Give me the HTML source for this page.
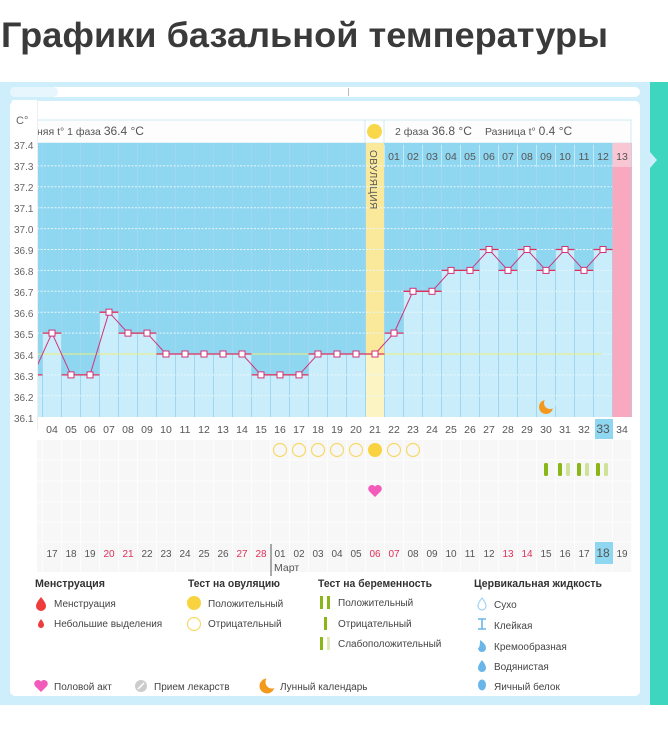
<!DOCTYPE html>
<html><head><meta charset="utf-8"><style>
html,body{margin:0;padding:0;background:#fff;}
svg{display:block;font-family:"Liberation Sans","DejaVu Sans",sans-serif;}
</style></head><body>
<svg id="s" width="668" height="743" viewBox="0 0 668 743" xmlns="http://www.w3.org/2000/svg">
<text x="1" y="47" font-size="35" font-weight="bold" fill="#3a3a3a" textLength="607" lengthAdjust="spacingAndGlyphs">Графики базальной температуры</text>
<rect x="0" y="82" width="650" height="623" fill="#cdeefa"/>
<rect x="650" y="82" width="18" height="623" fill="#3fd6bf"/>
<polygon points="650,152 657,160 650,168" fill="#cdeefa"/>
<rect x="10" y="87" width="630" height="10" rx="5" fill="#fff"/>
<rect x="10" y="87" width="48" height="10" rx="5" fill="#e6f6fc"/>
<rect x="348" y="88" width="1" height="8" fill="#bbb"/>
<rect x="10" y="101" width="630" height="595" rx="5" fill="#fff"/>
<!-- header -->
<rect x="37" y="120" width="594" height="23" fill="#fdfdfd" stroke="#cfe9f3"/>
<text x="37" y="135" font-size="10.5" fill="#555">няя t° 1 фаза <tspan font-size="12">36.4 °C</tspan></text>
<rect x="365" y="120" width="19" height="23" fill="#fff" stroke="#cfe9f3"/>
<circle cx="374.5" cy="131.5" r="7.5" fill="#f9d74a"/>
<text x="395" y="135" font-size="10.5" fill="#555">2 фаза <tspan font-size="12">36.8 °C</tspan></text>
<text x="485" y="135" font-size="10.5" fill="#555">Разница t° <tspan font-size="12">0.4 °C</tspan></text>
<!-- plot -->
<rect x="37" y="143" width="594" height="274" fill="#8fd6f1"/>
<g id="bars"></g>
<g stroke="#e6f7fd" stroke-dasharray="2,1.5" stroke-width="1" id="grid"></g>
<rect x="612.5" y="143" width="19" height="274" fill="#f8a9c0"/>
<rect x="612.5" y="143" width="19" height="24" fill="#f9c6d4"/>
<line x1="37" y1="354" x2="602" y2="354" stroke="#f0f07a" stroke-width="1"/>
<text transform="translate(370,150) rotate(90)" font-size="10" fill="#555" letter-spacing="0.5">ОВУЛЯЦИЯ</text>
<g font-size="10.5" fill="#555" text-anchor="middle">
<text x="394" y="160">01</text><text x="413" y="160">02</text><text x="432" y="160">03</text><text x="451" y="160">04</text><text x="470" y="160">05</text><text x="489" y="160">06</text><text x="508" y="160">07</text><text x="527" y="160">08</text><text x="546" y="160">09</text><text x="565" y="160">10</text><text x="584" y="160">11</text><text x="603" y="160">12</text><text x="622" y="160">13</text>
</g>
<g id="line"></g>
<circle cx="546" cy="407" r="7" fill="#f39a1e"/><circle cx="550" cy="403" r="6" fill="#c9edfb"/>
<!-- left axis panel -->
<rect x="12" y="100" width="25" height="330" fill="#fff"/>
<rect x="37" y="100" width="1" height="330" fill="#eee"/>
<g font-size="10" fill="#666">
<text x="16" y="124" font-size="11">C°</text>
<text x="14" y="149">37.4</text><text x="14" y="170">37.3</text><text x="14" y="191">37.2</text><text x="14" y="212">37.1</text><text x="14" y="233">37.0</text><text x="14" y="254">36.9</text><text x="14" y="275">36.8</text><text x="14" y="296">36.7</text><text x="14" y="317">36.6</text><text x="14" y="338">36.5</text><text x="14" y="359">36.4</text><text x="14" y="380">36.3</text><text x="14" y="401">36.2</text><text x="14" y="422">36.1</text>
</g>
<!-- day row -->
<rect x="595" y="419" width="18" height="20" fill="#8fd6f1"/>
<g font-size="10.5" fill="#555" text-anchor="middle">
<text x="52" y="433">04</text><text x="71" y="433">05</text><text x="90" y="433">06</text><text x="109" y="433">07</text><text x="128" y="433">08</text><text x="147" y="433">09</text><text x="166" y="433">10</text><text x="185" y="433">11</text><text x="204" y="433">12</text><text x="223" y="433">13</text><text x="242" y="433">14</text><text x="261" y="433">15</text><text x="280" y="433">16</text><text x="299" y="433">17</text><text x="318" y="433">18</text><text x="337" y="433">19</text><text x="356" y="433">20</text><text x="375" y="433">21</text><text x="394" y="433">22</text><text x="413" y="433">23</text><text x="432" y="433">24</text><text x="451" y="433">25</text><text x="470" y="433">26</text><text x="489" y="433">27</text><text x="508" y="433">28</text><text x="527" y="433">29</text><text x="546" y="433">30</text><text x="565" y="433">31</text><text x="584" y="433">32</text><text x="603" y="433" font-size="12">33</text><text x="622" y="433">34</text>
</g>
<!-- lower grid -->
<rect x="37" y="440" width="594" height="132" fill="#f7f7f7"/>
<g id="lgrid" stroke="#fdfdfd" stroke-width="1"></g>
<g fill="none" stroke="#f7d96a" stroke-width="1.2">
<circle cx="280" cy="450" r="6.5"/><circle cx="299" cy="450" r="6.5"/><circle cx="318" cy="450" r="6.5"/><circle cx="337" cy="450" r="6.5"/><circle cx="356" cy="450" r="6.5"/><circle cx="394" cy="450" r="6.5"/><circle cx="413" cy="450" r="6.5"/>
</g>
<circle cx="375" cy="450" r="7" fill="#f9d23f"/>
<g>
<rect x="544" y="463" width="4" height="13" rx="1.5" fill="#8ab617"/>
<rect x="558" y="463" width="4" height="13" rx="1.5" fill="#8ab617"/><rect x="566" y="463" width="4" height="13" rx="1.5" fill="#cfe29a"/>
<rect x="577" y="463" width="4" height="13" rx="1.5" fill="#8ab617"/><rect x="585" y="463" width="4" height="13" rx="1.5" fill="#cfe29a"/>
<rect x="596" y="463" width="4" height="13" rx="1.5" fill="#8ab617"/><rect x="604" y="463" width="4" height="13" rx="1.5" fill="#cfe29a"/>
</g>
<path d="M375 497 l-6 -6 a3.3 3.3 0 0 1 6 -4.5 a3.3 3.3 0 0 1 6 4.5z" fill="#f25bb9"/>
<rect x="595" y="542" width="18" height="22" fill="#8fd6f1"/>
<rect x="12" y="430" width="25" height="145" fill="#fff"/>
<g font-size="10" fill="#555" text-anchor="middle">
<text x="52" y="557">17</text><text x="71" y="557">18</text><text x="90" y="557">19</text><text x="109" y="557" fill="#e0305a">20</text><text x="128" y="557" fill="#e0305a">21</text><text x="147" y="557">22</text><text x="166" y="557">23</text><text x="185" y="557">24</text><text x="204" y="557">25</text><text x="223" y="557">26</text><text x="242" y="557" fill="#e0305a">27</text><text x="261" y="557" fill="#e0305a">28</text><text x="280" y="557">01</text><text x="299" y="557">02</text><text x="318" y="557">03</text><text x="337" y="557">04</text><text x="356" y="557">05</text><text x="375" y="557" fill="#e0305a">06</text><text x="394" y="557" fill="#e0305a">07</text><text x="413" y="557">08</text><text x="432" y="557">09</text><text x="451" y="557">10</text><text x="470" y="557">11</text><text x="489" y="557">12</text><text x="508" y="557" fill="#e0305a">13</text><text x="527" y="557" fill="#e0305a">14</text><text x="546" y="557">15</text><text x="565" y="557">16</text><text x="584" y="557">17</text><text x="603" y="557" font-size="12">18</text><text x="622" y="557">19</text>
</g>
<line x1="271" y1="544" x2="271" y2="576" stroke="#555"/>
<text x="274" y="571" font-size="10.5" fill="#555">Март</text>
<!-- legend -->
<g font-size="11" fill="#333" font-weight="bold">
<text x="35" y="587" textLength="70" lengthAdjust="spacingAndGlyphs">Менструация</text><text x="188" y="587" textLength="92" lengthAdjust="spacingAndGlyphs">Тест на овуляцию</text><text x="318" y="587" textLength="114" lengthAdjust="spacingAndGlyphs">Тест на беременность</text><text x="474" y="587" textLength="128" lengthAdjust="spacingAndGlyphs">Цервикальная жидкость</text>
</g>
<g font-size="10" fill="#444">
<text x="54" y="607">Менструация</text><text x="54" y="627">Небольшие выделения</text>
<text x="208" y="607">Положительный</text><text x="208" y="627">Отрицательный</text>
<text x="338" y="606">Положительный</text><text x="338" y="627">Отрицательный</text><text x="338" y="647">Слабоположительный</text>
<text x="494" y="608">Сухо</text><text x="494" y="629">Клейкая</text><text x="494" y="650">Кремообразная</text><text x="494" y="670">Водянистая</text><text x="494" y="690">Яичный белок</text>
<text x="54" y="690">Половой акт</text><text x="154" y="690">Прием лекарств</text><text x="280" y="690">Лунный календарь</text>
</g>
<path d="M41 597 q-5 6 -5 9 a5 5 0 0 0 10 0 q0 -3 -5 -9z" fill="#ee3b3b"/>
<path d="M41 619 q-3 4 -3 6 a3 3 0 0 0 6 0 q0 -2 -3 -6z" fill="#ee3b3b"/>
<circle cx="194" cy="603" r="7" fill="#f9d23f"/>
<circle cx="194" cy="624" r="6.5" fill="none" stroke="#f7d96a" stroke-width="1.2"/>
<rect x="320" y="596" width="3" height="13" fill="#8ab617"/><rect x="327" y="596" width="3" height="13" fill="#8ab617"/>
<rect x="324" y="617" width="3" height="13" fill="#8ab617"/>
<rect x="320" y="637" width="3" height="13" fill="#8ab617"/><rect x="327" y="637" width="3" height="13" fill="#dfeab8"/>
<path d="M482 598 q-4 5 -4 8 a4 4 0 0 0 8 0 q0 -3 -4 -8z" fill="none" stroke="#8ccbef"/>
<path d="M478 619 h8 M482 619 v10 M478 629 h8" stroke="#6ab6e8" stroke-width="1.6"/>
<path d="M480 640 q6 4 6 8 a4 4 0 0 1 -8 0 q2 0 2 -8z" fill="#6ab6e8"/>
<path d="M482 660 q-4 5 -4 8 a4 4 0 0 0 8 0 q0 -3 -4 -8z" fill="#6ab6e8"/>
<ellipse cx="482" cy="685" rx="4" ry="5.5" fill="#6ab6e8"/>
<path d="M41 692 l-6 -6 a3.3 3.3 0 0 1 6 -4.5 a3.3 3.3 0 0 1 6 4.5z" fill="#f25bb9"/>
<circle cx="141" cy="686" r="6" fill="#ccc"/><line x1="138" y1="689" x2="144" y2="683" stroke="#fff" stroke-width="1.5"/>
<circle cx="267" cy="686" r="7.5" fill="#f39a1e"/><circle cx="272" cy="682" r="6.5" fill="#fff"/>
</svg>
<script>
(function(){
var NS="http://www.w3.org/2000/svg";
function el(p,t,a){var e=document.createElementNS(NS,t);for(var k in a)e.setAttribute(k,a[k]);p.appendChild(e);return e;}
var T={3:36.3,4:36.5,5:36.3,6:36.3,7:36.6,8:36.5,9:36.5,10:36.4,11:36.4,12:36.4,13:36.4,14:36.4,15:36.3,16:36.3,17:36.3,18:36.4,19:36.4,20:36.4,21:36.4,22:36.5,23:36.7,24:36.7,25:36.8,26:36.8,27:36.9,28:36.8,29:36.9,30:36.8,31:36.9,32:36.8,33:36.9};
function cx(d){return 52+(d-4)*19;}
function Y(t){return 145+(37.4-t)*209;}
var b=document.getElementById('bars');
el(b,'rect',{x:cx(21)-9.5,y:143,width:19,height:274,fill:'#fbe99b'});
for(var d=3;d<=33;d++){var y=Y(T[d]);
 el(b,'rect',{x:cx(d)-9.5,y:y,width:19,height:417-y,fill:d==21?'#fdf4c4':'#c9edfb'});}
for(var d=3;d<=34;d++){el(b,'line',{x1:cx(d)+9.5,y1:143,x2:cx(d)+9.5,y2:417,stroke:'#9fd8ee','stroke-width':1});}
for(var d=22;d<=33;d++){el(b,'line',{x1:cx(d)-9.5,y1:145,x2:cx(d)-9.5,y2:167,stroke:'#c2eaf8'});}
var g=document.getElementById('grid');
for(var i=1;i<13;i++){var yy=145+i*20.9;el(g,'line',{x1:37,y1:yy,x2:612,y2:yy});}
var l=document.getElementById('line');var pts=[];
for(var d=3;d<=33;d++){pts.push(cx(d)+','+Y(T[d]));}
el(l,'polyline',{points:pts.join(' '),fill:'none',stroke:'#d0337a','stroke-width':1});
for(var d=3;d<=33;d++){var y=Y(T[d]);
 el(l,'line',{x1:cx(d)-9.5,y1:y,x2:cx(d)+9.5,y2:y,stroke:'#e0305a','stroke-width':1.3});
 el(l,'rect',{x:cx(d)-3,y:y-3,width:6,height:6,fill:'#fff',stroke:'#d0337a','stroke-width':1});}
var lg=document.getElementById('lgrid');
for(var d=3;d<=34;d++){el(lg,'line',{x1:cx(d)+9.5,y1:440,x2:cx(d)+9.5,y2:572});}
[460,481,502,522,542].forEach(function(yy){el(lg,'line',{x1:37,y1:yy,x2:631,y2:yy});});
})();
</script>
</body></html>
